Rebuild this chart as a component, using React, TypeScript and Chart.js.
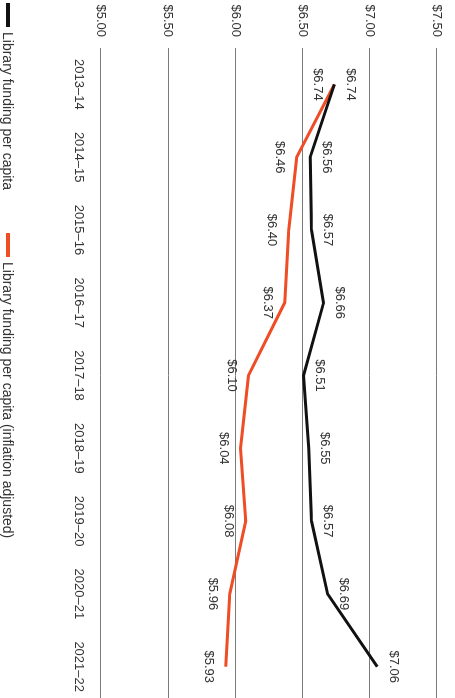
import React, { useEffect, useRef } from "react";
import { Chart, registerables } from "chart.js";

Chart.register(...registerables);

// Fiscal years along the category axis
const years = [
  "2013–14",
  "2014–15",
  "2015–16",
  "2016–17",
  "2017–18",
  "2018–19",
  "2019–20",
  "2020–21",
  "2021–22",
];

// Dollars per capita, nominal
const fundingPerCapita = [6.74, 6.56, 6.57, 6.66, 6.51, 6.55, 6.57, 6.69, 7.06];

// Dollars per capita, inflation adjusted
const fundingInflationAdjusted = [6.74, 6.46, 6.4, 6.37, 6.1, 6.04, 6.08, 5.96, 5.93];

// Value axis ticks
const valueTicks = [5.0, 5.5, 6.0, 6.5, 7.0, 7.5];

const seriesNames = [
  "Library funding per capita",
  "Library funding per capita (inflation adjusted)",
];
const seriesColors = ["#111111", "#ee4d26"];
// Value label offset from each point (negative = above the line)
const labelOffsets = [-16, 17];

const FONT = "'Liberation Sans', Arial, Helvetica, sans-serif";
const TEXT = "#333333";

// Chart is laid out landscape, then turned a quarter turn clockwise
const CHART_W = 707;
const CHART_H = 455;

const money = (v: number) => "$" + v.toFixed(2);

const valueLabels = {
  id: "valueLabels",
  afterDatasetsDraw(chart: Chart) {
    const ctx = chart.ctx;
    ctx.save();
    ctx.font = `13px ${FONT}`;
    ctx.fillStyle = TEXT;
    ctx.textAlign = "center";
    ctx.textBaseline = "middle";
    chart.data.datasets.forEach((ds, i) => {
      const meta = chart.getDatasetMeta(i);
      meta.data.forEach((el: any, j: number) => {
        const v = ds.data[j] as number;
        ctx.fillText(money(v), el.x, el.y + labelOffsets[i]);
      });
    });
    ctx.restore();
  },
};

export default function App() {
  const canvasRef = useRef<HTMLCanvasElement | null>(null);

  useEffect(() => {
    if (!canvasRef.current) return;
    const chart = new Chart(canvasRef.current, {
      type: "line",
      data: {
        labels: years,
        datasets: [
          {
            label: seriesNames[0],
            data: fundingPerCapita,
            borderColor: seriesColors[0],
            backgroundColor: seriesColors[0],
            borderWidth: 3,
            pointRadius: 0,
            tension: 0,
          },
          {
            label: seriesNames[1],
            data: fundingInflationAdjusted,
            borderColor: seriesColors[1],
            backgroundColor: seriesColors[1],
            borderWidth: 3,
            pointRadius: 0,
            tension: 0,
          },
        ],
      },
      options: {
        animation: false,
        responsive: false,
        devicePixelRatio: 1,
        layout: { padding: { top: 14, right: 0, bottom: 0, left: 0 } },
        plugins: {
          legend: { display: false },
          tooltip: { enabled: false },
        },
        scales: {
          x: {
            type: "category",
            offset: true,
            grid: { display: false, drawTicks: false },
            border: { display: false },
            ticks: {
              color: TEXT,
              font: { family: FONT, size: 13 },
              padding: 15,
              maxRotation: 0,
              autoSkip: false,
            },
            afterFit: (s: any) => {
              s.height = 101;
            },
          },
          y: {
            min: valueTicks[0],
            max: valueTicks[valueTicks.length - 1],
            grid: { color: "#7a7a7a", lineWidth: 1, drawTicks: false },
            border: { display: false },
            afterBuildTicks: (s: any) => {
              s.ticks = valueTicks.map((v) => ({ value: v }));
            },
            ticks: {
              color: TEXT,
              font: { family: FONT, size: 13 },
              padding: 11,
              callback: (v: any) => money(Number(v)),
            },
            afterFit: (s: any) => {
              s.width = 48;
            },
          },
        },
      },
      plugins: [valueLabels],
    });
    return () => chart.destroy();
  }, []);

  return (
    <div
      style={{
        position: "fixed",
        left: 0,
        top: 0,
        width: 455,
        height: 698,
        overflow: "hidden",
        background: "#ffffff",
      }}
    >
      <div
        style={{
          position: "absolute",
          left: 0,
          top: 0,
          width: CHART_W,
          height: CHART_H,
          transformOrigin: "0 0",
          transform: `translate(${CHART_H}px, 0) rotate(90deg)`,
        }}
      >
        <canvas
          ref={canvasRef}
          width={CHART_W}
          height={CHART_H}
          style={{ display: "block", width: CHART_W, height: CHART_H }}
        />
        <div
          style={{
            position: "absolute",
            left: 3,
            top: 438,
            height: 18,
            display: "flex",
            alignItems: "center",
            fontFamily: FONT,
            fontSize: 14,
            color: TEXT,
            whiteSpace: "nowrap",
          }}
        >
          {seriesNames.map((name, i) => (
            <div
              key={name}
              style={{
                display: "flex",
                alignItems: "center",
                marginLeft: i === 0 ? 0 : 43,
              }}
            >
              <span
                style={{
                  display: "inline-block",
                  width: 24,
                  height: 4,
                  background: seriesColors[i],
                  marginRight: 5,
                }}
              />
              <span>{name}</span>
            </div>
          ))}
        </div>
      </div>
    </div>
  );
}
